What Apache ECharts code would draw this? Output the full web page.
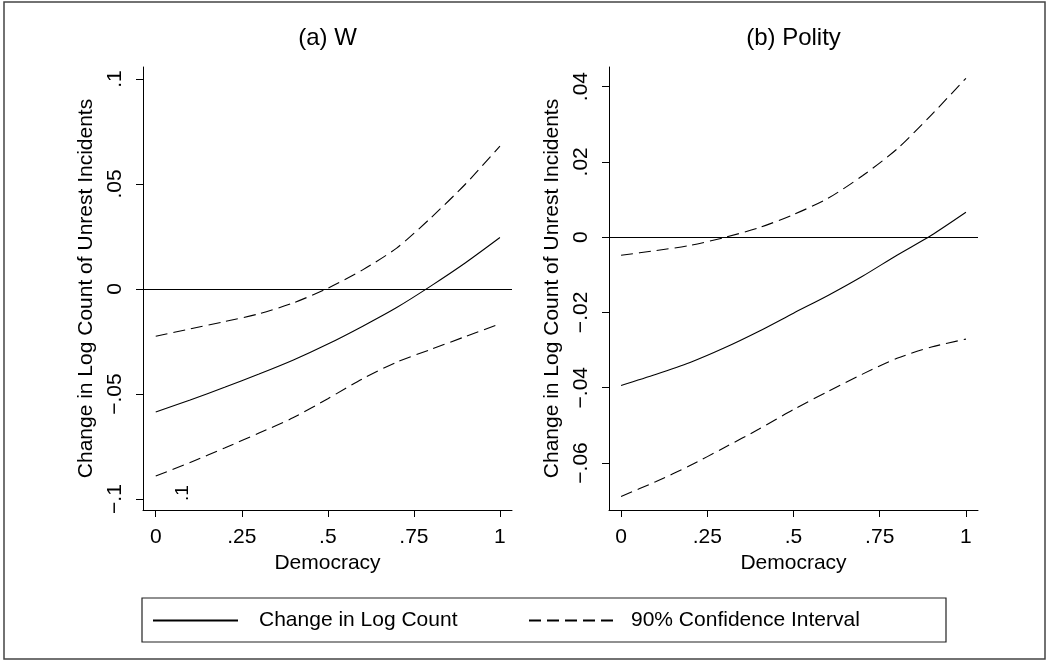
<!DOCTYPE html>
<html>
<head>
<meta charset="utf-8">
<script src="https://cdn.jsdelivr.net/npm/echarts@6/dist/echarts.min.js"></script>
<style>
html, body { margin: 0; padding: 0; background: #fff; }
#chart { width: 1048px; height: 662px; }
</style>
</head>
<body>
<div id="chart"></div>
<script>
// ----------- 数据 -----------
var democracy = [0, 0.1, 0.2, 0.3, 0.4, 0.5, 0.6, 0.7, 0.8, 0.9, 1.0]

// (a) W
var w_effect = [-0.0585, -0.0528, -0.0468, -0.0405, -0.0338, -0.0262, -0.0178, -0.0088, 0.0015, 0.0125, 0.0245]
var w_upper = [-0.0225, -0.019, -0.0155, -0.0118, -0.0066, 0.0004, 0.009, 0.0195, 0.034, 0.050, 0.068]
var w_lower = [-0.089, -0.0826, -0.0757, -0.0686, -0.0612, -0.0522, -0.0428, -0.0348, -0.0287, -0.0226, -0.0166]

// (b) Polity
var polity_effect = [-0.0394, -0.0365, -0.0333, -0.0294, -0.0250, -0.0202, -0.0155, -0.0104, -0.0048, 0.0005, 0.0066]
var polity_upper = [-0.0048, -0.0036, -0.0022, -0.0001, 0.0025, 0.006, 0.0103, 0.0163, 0.0234, 0.0325, 0.0422]
var polity_lower = [-0.0689, -0.065, -0.0607, -0.0559, -0.051, -0.0458, -0.041, -0.0364, -0.0322, -0.0292, -0.0271]

// 刻度
var x_ticks = [0, 0.25, 0.5, 0.75, 1]
var w_y_ticks = [-0.1, -0.05, 0, 0.05, 0.1]
var polity_y_ticks = [-0.06, -0.04, -0.02, 0, 0.02, 0.04]

var panel_titles = ["(a) W", "(b) Polity"]
var x_name = "Democracy"
var y_name = "Change in Log Count of Unrest Incidents"
var effect_name = "Change in Log Count"
var ci_name = "90% Confidence Interval"

// ----------- 工具函数 -----------
var font = "Liberation Sans, Arial, Helvetica, sans-serif"
var font_size = 21

// Stata 风格的数字: .25  −.05
function stata_num(v) {
    if (v === 0) return "0"
    var s = String(Math.abs(v)).replace(/^0\./, ".")
    return v < 0 ? "\u2212" + s : s
}

function pairs(xs, ys) {
    return xs.map(function (x, i) { return [x, ys[i]] })
}

function make_x_axis(grid_index, min, max) {
    return {
        type: "value", gridIndex: grid_index, min: min, max: max,
        name: x_name, nameLocation: "middle", nameGap: 43,
        nameTextStyle: { color: "#000", fontFamily: font, fontSize: font_size },
        axisLine: { show: true, onZero: false, lineStyle: { color: "#000", width: 1 } },
        axisTick: { show: true, length: 7, customValues: x_ticks, lineStyle: { color: "#000" } },
        axisLabel: { customValues: x_ticks, margin: 17, color: "#000", fontFamily: font, fontSize: font_size, formatter: stata_num },
        splitLine: { show: false }
    }
}

function make_y_axis(grid_index, min, max, ticks) {
    return {
        type: "value", gridIndex: grid_index, min: min, max: max,
        name: y_name, nameLocation: "middle", nameGap: 46, nameRotate: 90,
        nameTextStyle: { color: "#000", fontFamily: font, fontSize: font_size },
        axisLine: { show: true, onZero: false, lineStyle: { color: "#000", width: 1 } },
        axisTick: { show: true, length: 7, customValues: ticks, lineStyle: { color: "#000" } },
        axisLabel: { customValues: ticks, rotate: 90, margin: 17, color: "#000", fontFamily: font, fontSize: font_size, formatter: stata_num },
        splitLine: { show: false }
    }
}

function make_line(name, idx, ys, dashed, with_zero) {
    var s = {
        name: name, type: "line", xAxisIndex: idx, yAxisIndex: idx,
        data: pairs(democracy, ys),
        symbol: "none", smooth: 0.25,
        lineStyle: { color: "#000", width: 1.1, type: dashed ? [12, 6] : "solid" },
        itemStyle: { color: "#000" },
        silent: true
    }
    if (with_zero) {
        s.markLine = {
            silent: true, symbol: ["none", "none"], label: { show: false },
            lineStyle: { color: "#000", type: "solid", width: 1 },
            data: [{ yAxis: 0 }]
        }
    }
    return s
}

// 图例: 只要线, 不要圆点
var legend_base = {
    top: 610, padding: 0, itemHeight: 20, selectedMode: false,
    itemStyle: { color: "rgba(0,0,0,0)", borderColor: "rgba(0,0,0,0)", borderWidth: 0 }
}

// ----------- 图表 -----------
var chart = echarts.init(document.getElementById("chart"))

var option = {
    animation: false,
    backgroundColor: "#fff",
    grid: [
        { left: 143, top: 67, width: 369, height: 443 },
        { left: 609, top: 67, width: 369, height: 443 }
    ],
    xAxis: [
        make_x_axis(0, -0.037, 1.035),
        make_x_axis(1, -0.035, 1.035)
    ],
    yAxis: [
        make_y_axis(0, -0.1052, 0.1057, w_y_ticks),
        make_y_axis(1, -0.0725, 0.0452, polity_y_ticks)
    ],
    legend: [
        Object.assign({}, legend_base, {
            data: [effect_name], left: 152, itemWidth: 85,
            textStyle: { color: "#000", fontFamily: font, fontSize: font_size, padding: [0, 0, 0, 16] }
        }),
        Object.assign({}, legend_base, {
            data: [ci_name], left: 528, itemWidth: 90,
            textStyle: { color: "#000", fontFamily: font, fontSize: font_size, padding: [0, 0, 0, 7] }
        })
    ],
    series: [
        make_line(effect_name, 0, w_effect, false, true),
        make_line(ci_name, 0, w_upper, true, false),
        make_line(ci_name, 0, w_lower, true, false),
        make_line(effect_name, 1, polity_effect, false, true),
        make_line(ci_name, 1, polity_upper, true, false),
        make_line(ci_name, 1, polity_lower, true, false)
    ],
    graphic: [
        // 外框
        { type: "rect", shape: { x: 4, y: 2, width: 1041, height: 657 }, style: { fill: null, stroke: "#444", lineWidth: 1.5 }, silent: true },
        // 图例框
        { type: "rect", shape: { x: 142, y: 598, width: 804, height: 44 }, style: { fill: null, stroke: "#222", lineWidth: 1.2 }, silent: true },
        // 标题
        { type: "text", x: 327.5, y: 38, style: { text: panel_titles[0], align: "center", verticalAlign: "middle", fill: "#000", font: "24px " + font } },
        { type: "text", x: 793.5, y: 38, style: { text: panel_titles[1], align: "center", verticalAlign: "middle", fill: "#000", font: "24px " + font } },
        // 左图里多出来的 ".1"
        { type: "text", x: 183, y: 493, rotation: Math.PI / 2, style: { text: ".1", align: "center", verticalAlign: "middle", fill: "#000", font: "19px " + font } }
    ]
}

chart.setOption(option)
</script>
</body>
</html>
